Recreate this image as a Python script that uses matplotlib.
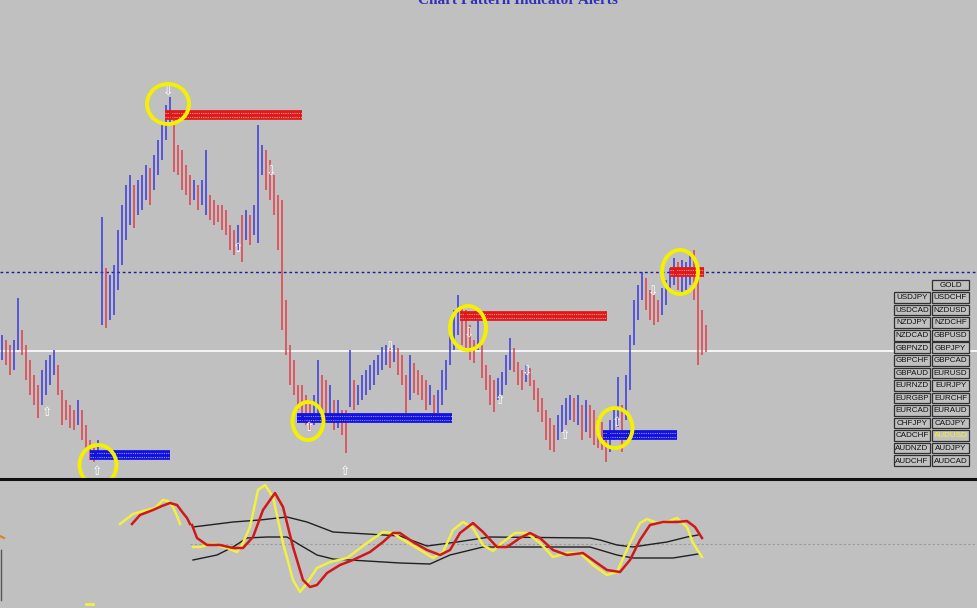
import numpy as np
import matplotlib
matplotlib.use("Agg")
import matplotlib.pyplot as plt
from matplotlib.patches import Ellipse, Rectangle

# price bars (screen levels, larger = lower on chart)
bar_high = [335, 340, 345, 340, 298, 330, 345, 360, 375, 385, 370, 360, 355, 350, 365, 390,
            400, 405, 410, 400, 410, 425, 440, 448, 440, 217, 268, 275, 265, 230, 205, 185,
            175, 185, 180, 175, 165, 168, 155, 140, 125, 105, 97, 120, 145, 150, 165, 175,
            180, 185, 180, 150, 195, 200, 205, 205, 210, 225, 230, 225, 215, 210, 215, 205,
            125, 145, 150, 160, 175, 195, 200, 300, 345, 360, 385, 385, 395, 400, 395, 360,
            375, 380, 385, 400, 400, 410, 410, 350, 380, 385, 375, 370, 365, 360, 355, 347,
            345, 348, 345, 348, 355, 375, 355, 363, 370, 375, 380, 385, 395, 390, 370, 360,
            330, 310, 295, 305, 310, 325, 340, 320, 345, 365, 375, 380, 378, 372, 355, 338,
            348, 362, 370, 365, 368, 380, 388, 398, 410, 418, 425, 415, 405, 398, 395, 398,
            395, 405, 400, 405, 410, 418, 422, 430, 420, 410, 377, 405, 375, 335, 300, 285,
            272, 278, 290, 295, 300, 288, 280, 268, 258, 262, 260, 262, 255, 250, 272, 310, 325]
bar_low = [360, 365, 375, 370, 350, 355, 380, 395, 405, 418, 405, 395, 385, 375, 395, 425,
           420, 428, 430, 425, 440, 450, 460, 462, 458, 325, 328, 320, 315, 290, 265, 240,
           225, 228, 215, 210, 200, 205, 190, 175, 160, 140, 125, 172, 175, 190, 195, 205,
           200, 210, 205, 215, 220, 225, 222, 230, 235, 250, 255, 250, 262, 240, 245, 235,
           243, 175, 190, 200, 215, 250, 330, 355, 385, 395, 410, 420, 425, 430, 425, 415,
           410, 420, 415, 430, 428, 435, 453, 407, 410, 405, 400, 395, 390, 385, 375, 370,
           365, 368, 362, 375, 385, 413, 400, 393, 395, 400, 410, 405, 415, 413, 405, 390,
           365, 350, 335, 345, 350, 360, 363, 350, 378, 390, 405, 412, 400, 395, 385, 370,
           372, 385, 390, 382, 386, 400, 412, 422, 440, 450, 452, 440, 432, 425, 420, 422,
           425, 440, 432, 438, 445, 448, 450, 462, 452, 440, 427, 452, 420, 390, 345, 320,
           300, 310, 320, 325, 322, 315, 305, 292, 285, 290, 292, 290, 285, 300, 365, 355, 352]

# support / resistance levels: (start px, end px, level)
res_lines = [(165, 302, 115), (460, 607, 316), (670, 704, 272)]
sup_lines = [(90, 170, 455), (297, 452, 418), (603, 677, 435)]

# highlighted swing points: (x, level, width, height)
circles = [(168, 104, 42, 40), (98, 465, 37, 40), (308, 421, 31, 38),
           (468, 328, 36, 44), (615, 428, 35, 40), (680, 272, 36, 44)]

up_arrows = [(47, 413), (97, 472), (238, 249), (309, 428), (345, 472), (500, 401),
             (565, 436), (617, 423)]
down_arrows = [(168, 92), (271, 172), (469, 334), (390, 348), (527, 372), (653, 292)]

level_blue = 272
level_white = 351

# oscillator (lower window)
yel1_x = [120, 133, 147, 155, 163, 168, 173, 177, 180]
yel1_y = [524, 514, 510, 508, 500, 501, 507, 516, 524]
red1_x = [132, 140, 153, 162, 170, 177, 183, 187, 190]
red1_y = [524, 515, 510, 506, 503, 505, 513, 518, 524]
yel2_x = [193, 200, 213, 227, 237, 243, 250, 258, 265, 273, 283, 293, 300, 307, 317,
          330, 347, 367, 383, 393, 400, 417, 433, 443, 453, 463, 473, 483, 493, 503,
          515, 527, 540, 553, 567, 580, 593, 607, 617, 630, 640, 647, 657, 667, 677,
          687, 693, 702]
yel2_y = [547, 547, 544, 548, 552, 543, 527, 490, 485, 497, 543, 580, 592, 583, 568,
          562, 558, 543, 532, 533, 538, 548, 558, 552, 530, 522, 528, 545, 551, 542,
          533, 533, 543, 557, 553, 553, 565, 575, 572, 543, 523, 519, 523, 522, 518,
          527, 543, 557]
red2_x = [192, 197, 207, 220, 233, 243, 253, 263, 275, 283, 293, 303, 310, 317, 327,
          340, 353, 370, 383, 393, 400, 413, 427, 440, 450, 460, 473, 483, 497, 507,
          520, 530, 540, 553, 567, 583, 597, 607, 620, 630, 640, 650, 663, 677, 687,
          695, 702]
red2_y = [525, 538, 545, 545, 548, 548, 537, 510, 493, 507, 547, 580, 587, 585, 573,
          565, 560, 552, 542, 533, 533, 542, 550, 555, 550, 533, 523, 532, 547, 547,
          538, 533, 538, 550, 555, 553, 563, 570, 572, 560, 540, 525, 522, 522, 521,
          527, 538]
band_hi_x = [193, 233, 260, 287, 307, 333, 367, 400, 427, 457, 490, 590, 600, 617,
             633, 653, 667, 687, 698]
band_hi_y = [527, 522, 520, 517, 522, 532, 534, 536, 546, 542, 537, 538, 540, 545,
             547, 544, 542, 537, 535]
band_lo_x = [193, 217, 233, 247, 267, 287, 300, 317, 333, 367, 400, 430, 450, 483,
             590, 617, 633, 673, 698]
band_lo_y = [560, 555, 547, 538, 537, 537, 545, 555, 559, 561, 563, 564, 555, 547,
             547, 555, 558, 558, 554]

symbols_left = ["", "USDJPY", "USDCAD", "NZDJPY", "NZDCAD", "GBPNZD", "GBPCHF", "GBPAUD",
                "EURNZD", "EURGBP", "EURCAD", "CHFJPY", "CADCHF", "AUDNZD", "AUDCHF"]
symbols_right = ["GOLD", "USDCHF", "NZDUSD", "NZDCHF", "GBPUSD", "GBPJPY", "GBPCAD",
                 "EURUSD", "EURJPY", "EURCHF", "EURAUD", "CADJPY", "AUDUSD", "AUDJPY",
                 "AUDCAD"]
active_symbol = "AUDUSD"

BG = "#c0c0c0"
BLUE = "#3535dd"
RED = "#e23a44"

W, H = 977, 608
fig = plt.figure(figsize=(W / 100, H / 100), dpi=100, facecolor=BG)

ax = fig.add_axes([0, 130 / H, 1, 478 / H])
ax.set_facecolor(BG)
ax.set_xlim(0, W)
ax.set_ylim(478, 0)
ax.axis("off")

ax.axhline(level_blue, color="#1a1aa0", lw=1, ls=(0, (2, 2)), zorder=1)
ax.axhline(level_white, color="white", lw=1.2, zorder=1)

hi = np.array(bar_high, dtype=float)
lo = np.array(bar_low, dtype=float)
mid = (hi + lo) / 2
bx = 2 + 4 * np.arange(len(hi))
for i in range(len(hi)):
    rising = i == 0 or mid[i] <= mid[i - 1]
    col = BLUE if rising else RED
    ax.vlines(bx[i], hi[i], lo[i], color=col, lw=1.25, alpha=0.85, zorder=2)

for x0, x1, lev in res_lines:
    ax.plot([x0, x1], [lev, lev], color="#e01818", lw=7, solid_capstyle="butt", zorder=3)
    ax.plot([x0, x1], [lev - 1.5, lev - 1.5], color="#ff9a9a", lw=0.8, ls=(0, (1, 1)), zorder=4)
    ax.plot([x0, x1], [lev + 1.8, lev + 1.8], color="#ff9a9a", lw=0.8, ls=(0, (1, 1)), zorder=4)
    ax.text(x0 + 2, lev, "\u2190", color="#e01818", fontsize=11, ha="left", va="center",
            fontweight="bold", zorder=5)
for x0, x1, lev in sup_lines:
    ax.plot([x0, x1], [lev, lev], color="#1010e0", lw=7, solid_capstyle="butt", zorder=3)
    ax.plot([x0, x1], [lev - 1.5, lev - 1.5], color="#9a9aff", lw=0.8, ls=(0, (1, 1)), zorder=4)
    ax.plot([x0, x1], [lev + 1.8, lev + 1.8], color="#9a9aff", lw=0.8, ls=(0, (1, 1)), zorder=4)
    ax.text(x0 + 2, lev, "\u2190", color="#1010e0", fontsize=11, ha="left", va="center",
            fontweight="bold", zorder=5)

for cx, cy, w, h in circles:
    ax.add_patch(Ellipse((cx, cy), w, h, fill=False, ec="#f4f000", lw=2.8, zorder=6))

for x, y in up_arrows:
    ax.text(x, y, "\u21e7", color="white", fontsize=9, ha="center", va="center", zorder=5)
for x, y in down_arrows:
    ax.text(x, y, "\u21e9", color="white", fontsize=9, ha="center", va="center", zorder=5)

# lower window
ax2 = fig.add_axes([0, 0, 1, 128 / H])
ax2.set_facecolor(BG)
ax2.set_xlim(0, W)
ax2.set_ylim(608, 480)
ax2.axis("off")
ax2.plot([190, W], [544, 544], color="#9a9a9a", lw=0.8, ls=(0, (2, 2)))
ax2.plot(band_hi_x, band_hi_y, color="#202020", lw=1)
ax2.plot(band_lo_x, band_lo_y, color="#202020", lw=1)
ax2.plot(yel1_x, yel1_y, color="#f2f040", lw=1.8)
ax2.plot(red1_x, red1_y, color="#d01818", lw=1.8)
ax2.plot(yel2_x, yel2_y, color="#f2f040", lw=1.8)
ax2.plot(red2_x, red2_y, color="#d01818", lw=1.8)
ax2.plot([1, 1], [550, 600], color="#555555", lw=1)
ax2.plot([0, 4], [536, 538], color="#e08020", lw=1.5)
ax2.plot([86, 93], [604, 604], color="#f2f040", lw=2)

# overlay for separator, title and symbol buttons
ov = fig.add_axes([0, 0, 1, 1], zorder=10)
ov.set_xlim(0, W)
ov.set_ylim(H, 0)
ov.axis("off")
ov.patch.set_alpha(0)
ov.plot([0, W], [478.5, 478.5], color="#101010", lw=2.2)
ov.text(518, 0, "Chart Pattern Indicator Alerts", color="#3030b8", fontsize=11,
        fontweight="bold", family="Liberation Serif", ha="center", va="center")

row_h = 12.55
for r in range(len(symbols_right)):
    yc = 285 + r * row_h
    for xl, wd, name in [(894, 36, symbols_left[r]), (932, 37, symbols_right[r])]:
        if not name:
            continue
        ov.add_patch(Rectangle((xl, yc - 5.3), wd, 10.6, fc=BG, ec="#303030", lw=0.9))
        tc = "#f4f030" if name == active_symbol else "#101010"
        ov.text(xl + wd / 2, yc + 0.3, name, color=tc, fontsize=5.8, family="Liberation Sans",
                ha="center", va="center")

fig.savefig("out.png", dpi=100, facecolor=BG)
